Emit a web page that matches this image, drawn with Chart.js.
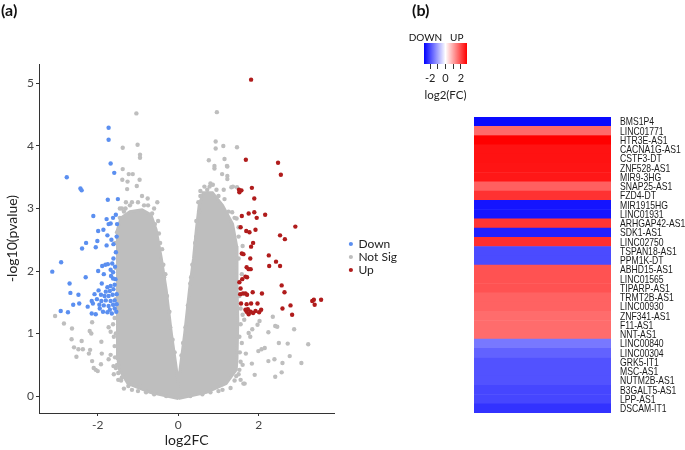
<!DOCTYPE html>
<html>
<head>
<meta charset="utf-8">
<script src="https://cdn.jsdelivr.net/npm/chart.js"></script>
<style>
  body { margin: 0; background: #fff; }
  #wrap { position: relative; width: 685px; height: 450px; overflow: hidden; }
  canvas { position: absolute; }
</style>
</head>
<body>
<div id="wrap">
  <canvas id="volcano" width="420" height="450" style="left:0;top:0"></canvas>
  <canvas id="cbar" width="80" height="107" style="left:405px;top:0"></canvas>
  <canvas id="heat" width="211" height="296" style="left:474px;top:117px"></canvas>
</div>
<script>
// ---- panel (a): volcano plot ----
const downX = [-1.73,-1.73,-1.68,-1.59,-2.77,-2.43,-2.40,-1.75,-1.50,-2.11,-1.78,-1.62,-1.55,-1.68,-1.52,-1.73,
  -1.99,-1.86,-1.76,-1.66,-1.53,-2.29,-2.39,-2.01,-2.05,-1.78,-1.61,
  -2.91,-3.13,-1.61,-1.64,-1.89,-1.81,-1.75,-1.57,-1.99,-1.68,-1.62,-1.67,-2.30,-1.62,-1.56,-2.70,-1.68,-1.76,
  -2.68,-1.98,-1.80,-1.70,-1.61,-2.48,-2.08,-1.92,-1.83,-1.73,-1.63,-1.53,-2.15,-2.02,-1.91,-1.80,-1.68,-1.58,
  -2.46,-2.61,-2.25,-2.12,-1.96,-1.85,-1.73,-1.62,-1.53,-2.92,-2.74,-2.15,-2.05,-1.87,-1.76,-1.65,-1.54,
  -1.90,-1.85,-1.55,-1.58,-1.95,-1.70,-1.58];
const downY = [4.29,4.10,3.72,3.57,3.50,3.32,3.29,3.14,3.15,2.88,2.83,2.85,2.90,2.76,2.75,2.75,
  2.64,2.66,2.57,2.50,2.55,2.45,2.36,2.48,2.38,2.41,2.43,
  2.14,1.99,2.20,2.12,2.08,2.10,2.11,2.07,2.00,2.02,1.98,1.92,1.90,1.88,1.87,1.80,1.76,1.74,
  1.65,1.69,1.67,1.68,1.71,1.62,1.63,1.62,1.60,1.60,1.62,1.63,1.52,1.55,1.52,1.53,1.52,1.53,
  1.48,1.46,1.43,1.48,1.46,1.45,1.44,1.46,1.47,1.36,1.34,1.32,1.31,1.35,1.34,1.32,1.35,
  1.80,1.95,2.30,1.78,1.40,1.38,1.40];

const upX = [1.81,1.68,2.48,2.55,1.83,1.52,1.57,1.51,1.89,
  1.58,1.75,1.89,1.95,2.16,2.91,1.55,1.69,1.77,1.92,2.53,2.65,1.86,1.81,1.58,1.62,1.79,2.25,2.43,2.26,2.53,
  1.70,1.75,1.80,1.67,1.71,1.59,1.52,1.55,2.57,2.64,1.85,2.08,1.54,1.61,1.67,1.71,1.56,1.70,1.81,1.97,
  3.33,3.37,3.39,3.55,2.79,2.59,2.06,1.67,1.73,1.80,1.86,1.92,2.01,1.75,2.83,1.70];
const upY = [5.06,3.78,3.73,3.54,3.33,3.26,3.29,3.30,3.16,
  2.88,2.92,2.94,2.85,2.90,2.71,2.70,2.64,2.62,2.66,2.57,2.51,2.45,2.39,2.28,2.27,2.20,2.25,2.15,2.08,2.08,
  2.06,2.03,2.03,1.91,1.90,1.87,1.82,1.72,1.77,1.66,1.66,1.64,1.63,1.64,1.64,1.62,1.48,1.47,1.48,1.48,
  1.52,1.54,1.46,1.54,1.45,1.40,1.38,1.38,1.39,1.35,1.33,1.36,1.34,1.31,1.30,1.35];

// scattered grey points around the edge of the cloud
const nsX = [-1.04,0.96,-1.38,-1.01,-0.95,-0.95,0.93,0.93,1.12,1.46,0.76,0.90,0.90,1.15,1.21,-1.38,-1.39,-1.23,-1.13,
  -1.26,-0.96,-1.27,-1.03,-0.52,-0.76,-1.40,-1.31,-0.65,1.13,1.36,1.46,1.22,1.09,1.34,1.45,0.55,0.78,0.86,1.22,1.22,1.32,
  -3.06,-2.84,-2.64,-2.65,-2.40,-2.59,-2.48,-2.37,-2.53,-2.19,-2.22,-2.14,-2.10,-1.91,-1.90,-1.92,-2.14,-2.20,-2.16,
  -2.00,-1.73,-1.68,-1.73,-1.68,-1.49,-1.42,-1.24,-1.09,-0.94,-1.49,-1.61,-2.05,
  1.62,1.55,1.44,1.52,1.83,1.99,2.07,2.15,2.24,2.39,2.41,2.57,2.50,2.72,2.77,2.59,3.06,3.23,2.88,2.41,2.24,2.02,1.97,
  1.84,1.75,1.64,1.79,1.68,2.35,2.46,1.90,1.65,
  -1.58,-1.62,-1.55,-1.57,-1.60,-1.35,-1.15,-0.80,-0.60,0.60,0.80,1.10,1.30,1.55,1.58,1.55,1.60,1.58,1.60,1.50,
  -1.52,-1.45,-0.58,-0.45,0.45,0.52,0.62,-0.85,-1.15,-0.35,0.32,-0.20,0.18,
  -1.45,-1.30,-1.20,-1.00,-0.90,-0.75,-0.60,-1.35,-0.50,-0.48,-0.40,-0.37,-0.32,-0.28,-0.22,-0.14,-0.09,
  0.50,0.55,0.65,0.72,0.80,0.95,1.00,1.15,1.25,1.40,1.50,1.50,0.45,0.42,0.35,0.30,0.24,0.12,0.08,
  1.52,1.55,1.52,1.53,1.50,1.40,-0.30,0.30,-1.00,1.00,-1.40,-1.55,1.60,
  -1.55,-1.58,-1.55,-1.57,-1.52,-1.60];
const nsY = [4.52,4.54,3.97,4.02,3.86,3.81,4.07,3.96,4.00,3.98,3.77,3.68,3.64,3.79,3.68,3.63,3.46,3.55,3.55,
  3.43,3.46,3.31,3.36,3.10,3.16,3.00,3.00,2.92,3.30,3.35,3.34,3.52,3.55,2.94,2.84,3.28,3.35,3.38,3.67,3.47,3.34,
  1.28,1.16,1.08,0.91,0.88,0.78,0.75,0.75,0.63,0.74,0.68,0.56,0.45,0.87,0.68,0.51,1.18,1.04,1.00,
  0.40,0.59,0.66,1.10,1.03,0.26,0.25,0.16,0.19,0.15,0.37,0.48,0.42,
  0.20,0.26,0.32,0.42,0.52,0.72,0.75,0.77,0.56,0.59,0.31,0.38,0.85,0.84,0.64,0.53,0.53,0.83,1.07,1.12,1.02,1.20,1.14,
  1.07,1.01,1.22,0.95,0.68,1.27,1.11,0.34,0.20,
  0.80,1.15,1.00,0.62,0.35,0.12,0.10,0.06,0.03,0.03,0.06,0.10,0.13,0.55,0.85,1.15,1.30,1.95,2.40,2.55,
  2.62,2.85,2.75,2.45,2.55,2.95,3.20,3.05,3.10,1.90,1.90,1.10,1.10,
  3.00,3.10,3.05,3.10,3.20,3.05,3.00,2.95,2.80,2.60,2.35,2.10,1.95,1.60,1.35,0.90,0.70,
  3.10,3.20,3.35,3.30,3.40,3.30,3.20,3.15,2.95,2.85,2.70,2.20,2.80,2.45,2.10,1.80,1.45,0.85,0.65,
  1.60,1.40,0.95,0.70,0.35,0.25,0.00,0.00,0.08,0.08,0.30,0.45,0.50,
  1.55,1.25,2.05,2.45,0.50,0.95];

// outline of the dense grey cloud of non-significant genes
const cloudX = [0.00,-0.70,-1.25,-1.46,-1.50,-1.52,-1.50,-1.52,-1.50,-1.42,-1.20,-0.90,-0.68,-0.55,-0.42,-0.30,-0.17,-0.06,
  0.00,0.06,0.16,0.28,0.38,0.45,0.52,0.62,0.85,1.10,1.35,1.45,1.46,1.48,1.46,1.44,1.19,0.70,0.00];
const cloudY = [-0.04,0.06,0.20,0.42,0.60,1.20,1.80,2.30,2.66,2.85,2.95,2.98,2.90,2.66,2.20,1.70,1.00,0.50,
  0.20,0.50,1.00,1.70,2.20,2.66,3.05,3.25,3.25,3.05,2.75,2.40,1.80,1.20,0.60,0.42,0.20,0.06,-0.04];

const groupNames = ['Down', 'Not Sig', 'Up'];

// ---- panel (b): heatmap ----
const genes = ['BMS1P4','LINC01771','HTR3E-AS1','CACNA1G-AS1','CSTF3-DT','ZNF528-AS1','MIR9-3HG','SNAP25-AS1',
  'FZD4-DT','MIR1915HG','LINC01931','ARHGAP42-AS1','SDK1-AS1','LINC02750','TSPAN18-AS1','PPM1K-DT',
  'ABHD15-AS1','LINC01565','TIPARP-AS1','TRMT2B-AS1','LINC00930','ZNF341-AS1','F11-AS1','NNT-AS1',
  'LINC00840','LINC00304','GRK5-IT1','MSC-AS1','NUTM2B-AS1','B3GALT5-AS1','LPP-AS1','DSCAM-IT1'];
const log2fc = [-2.69,1.64,2.80,2.60,2.60,2.58,2.55,1.75,
  2.25,-2.58,-2.58,2.22,-2.45,2.30,-1.98,-1.98,
  1.90,1.90,1.90,1.72,1.72,1.61,1.61,1.61,
  -1.48,-1.72,-1.90,-1.90,-1.90,-2.03,-2.03,-2.25];

const cbLimit = 2.8;
const cbTickLabels = [-2, 0, 2];

Chart.defaults.font.family = 'Lato, "Open Sans", sans-serif';

function fcColor(v) {
  const t = Math.min(1, Math.abs(v) / cbLimit);
  const c = Math.round(255 * (1 - t));
  return v < 0 ? `rgb(${c},${c},255)` : `rgb(255,${c},${c})`;
}

const pts = (xs, ys) => xs.map((x, i) => ({x: x, y: ys[i]}));

// free text (panel letters, colour key captions)
const panelText = {
  id: 'panelText',
  afterDraw(chart, args, opts) {
    const ctx = chart.ctx;
    (opts.items || []).forEach(t => {
      ctx.save();
      ctx.font = t.font;
      ctx.fillStyle = t.color || '#111';
      ctx.textAlign = t.align || 'left';
      ctx.textBaseline = 'middle';
      ctx.fillText(t.text, t.x, t.y);
      ctx.restore();
    });
  }
};

// gene names next to the heatmap rows, slightly condensed
const geneLabels = {
  id: 'geneLabels',
  afterDraw(chart) {
    const s = chart.scales.y, ctx = chart.ctx;
    ctx.save();
    ctx.font = '11.5px "Liberation Sans", Arial, sans-serif';
    ctx.fillStyle = '#1a1a1a';
    ctx.textBaseline = 'middle';
    chart.data.labels.forEach((lab, i) => {
      ctx.save();
      ctx.translate(chart.chartArea.right + 9, s.getPixelForTick(i) + 0.5);
      ctx.scale(0.75, 1);
      ctx.fillText(lab, 0, 0);
      ctx.restore();
    });
    ctx.restore();
  }
};

// volcano canvas wide enough that the plot area ends at x=335 with the legend to its right
const vCanvas = document.getElementById('volcano');
const meas = document.createElement('canvas').getContext('2d');
meas.font = '12px Lato';
const legendW = 1 + 3 + 6 + Math.max(...groupNames.map(t => meas.measureText(t).width));
vCanvas.width = Math.ceil(335 + 14 + legendW + 9);

new Chart(vCanvas, {
  type: 'scatter',
  data: {
    datasets: [
      { label: groupNames[0], data: pts(downX, downY), backgroundColor: '#5b8ff0', order: 0 },
      { label: groupNames[1], data: pts(nsX, nsY), backgroundColor: '#bebebe', order: 2 },
      { label: groupNames[2], data: pts(upX, upY), backgroundColor: '#b01c1c', order: 1 },
      { label: 'cloud', data: pts(cloudX, cloudY), showLine: true, fill: 'shape', tension: 0,
        backgroundColor: '#bebebe', borderColor: '#bebebe', borderWidth: 3, pointRadius: 0, order: 3 }
    ]
  },
  options: {
    responsive: false,
    animation: false,
    events: [],
    layout: { padding: { top: 64 } },
    elements: { point: { radius: 2.2, borderWidth: 0, hoverRadius: 2.2 } },
    scales: {
      x: {
        type: 'linear', min: -3.46, max: 3.88,
        afterFit: s => { s.height = 37; },
        ticks: { stepSize: 2, includeBounds: false, color: '#444', font: { size: 12 }, padding: 2, maxRotation: 0 },
        grid: { drawOnChartArea: false, tickLength: 3, color: '#333' },
        border: { color: '#333' },
        title: { display: true, text: 'log2FC', color: '#222', font: { size: 14 }, padding: { top: 0, bottom: 1 } }
      },
      y: {
        type: 'linear', min: -0.27, max: 5.31,
        afterFit: s => { s.width = 39; },
        ticks: { stepSize: 1, includeBounds: false, color: '#444', font: { size: 12 }, padding: 2 },
        grid: { drawOnChartArea: false, tickLength: 3, color: '#333' },
        border: { color: '#333' },
        title: { display: true, text: '-log10(pvalue)', color: '#222', font: { size: 14 }, padding: { top: 4, bottom: 0 } }
      },
      y2: {
        type: 'linear', position: 'right', display: true,
        afterFit: s => { s.width = 14; },
        ticks: { display: false }, grid: { display: false }, border: { display: false }
      }
    },
    plugins: {
      legend: {
        position: 'right',
        labels: {
          usePointStyle: true, pointStyle: 'circle', boxWidth: 3, boxHeight: 3, padding: 1,
          color: '#222', font: { size: 12 },
          filter: it => it.datasetIndex !== 3,
          sort: (a, b) => a.datasetIndex - b.datasetIndex
        }
      },
      tooltip: { enabled: false },
      panelText: { items: [{ text: '(a)', x: 1, y: 11, font: 'bold 16px Lato' }] }
    }
  },
  plugins: [panelText]
});

// ---- colour key ----
new Chart(document.getElementById('cbar'), {
  type: 'bar',
  data: {
    labels: [''],
    datasets: [{
      data: [[-cbLimit, cbLimit]],
      borderWidth: 0, barPercentage: 1, categoryPercentage: 1,
      backgroundColor: c => {
        const ch = c.chart;
        if (!ch.chartArea) return '#fff';
        const sx = ch.scales.x;
        const g = ch.ctx.createLinearGradient(sx.getPixelForValue(-cbLimit), 0, sx.getPixelForValue(cbLimit), 0);
        g.addColorStop(0, fcColor(-cbLimit));
        g.addColorStop(0.5, fcColor(0));
        g.addColorStop(1, fcColor(cbLimit));
        return g;
      }
    }]
  },
  options: {
    indexAxis: 'y',
    responsive: false,
    animation: false,
    events: [],
    layout: { padding: { left: 19, right: 18, top: 43 } },
    scales: {
      x: {
        min: -cbLimit, max: cbLimit,
        afterFit: s => { s.height = 43; },
        ticks: { stepSize: 1, includeBounds: false, autoSkip: false, maxRotation: 0, color: '#222', font: { size: 11 }, padding: 3,
          callback: v => cbTickLabels.includes(v) ? String(v) : '' },
        grid: { drawOnChartArea: false, tickLength: 5, color: '#333' },
        border: { display: false },
        title: { display: true, text: 'log2(FC)', color: '#222', font: { size: 11.5 }, padding: { top: 0, bottom: 5 } }
      },
      y: { display: false }
    },
    plugins: {
      legend: { display: false },
      tooltip: { enabled: false },
      panelText: { items: [
        { text: '(b)', x: 7, y: 11, font: 'bold 16px Lato' },
        { text: 'DOWN', x: 20.5, y: 37.5, font: '10px Lato', align: 'center' },
        { text: 'UP', x: 51.7, y: 37.5, font: '10px Lato', align: 'center' }
      ] }
    }
  },
  plugins: [panelText]
});

// ---- heatmap ----
new Chart(document.getElementById('heat'), {
  type: 'bar',
  data: {
    labels: genes,
    datasets: [{
      data: genes.map(() => [0, 1]),
      backgroundColor: log2fc.map(fcColor),
      borderWidth: 0, barPercentage: 1, categoryPercentage: 1
    }]
  },
  options: {
    indexAxis: 'y',
    responsive: false,
    animation: false,
    events: [],
    layout: { padding: 0 },
    scales: {
      x: { display: false, min: 0, max: 1 },
      y: { position: 'right', afterFit: s => { s.width = 74; },
        ticks: { display: false }, grid: { display: false }, border: { display: false } }
    },
    plugins: { legend: { display: false }, tooltip: { enabled: false } }
  },
  plugins: [geneLabels]
});
</script>
</body>
</html>
